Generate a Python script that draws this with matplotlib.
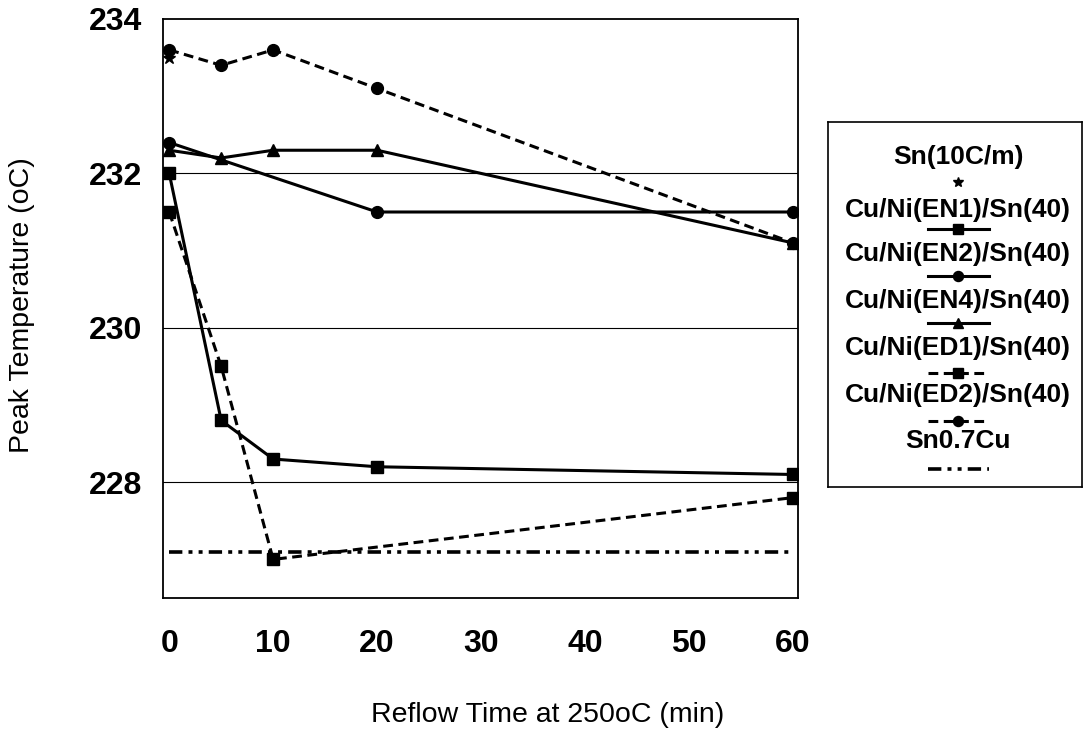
import numpy as np
import matplotlib
matplotlib.use("Agg")
import matplotlib.pyplot as plt

plt.rcParams["font.family"] = ["Liberation Sans", "DejaVu Sans"]

# data
x_sn = [0]
y_sn = [233.5]

x_en1 = [0, 5, 10, 20, 60]
y_en1 = [232.0, 228.8, 228.3, 228.2, 228.1]

x_en2 = [0, 20, 60]
y_en2 = [232.4, 231.5, 231.5]

x_en4 = [0, 5, 10, 20, 60]
y_en4 = [232.3, 232.2, 232.3, 232.3, 231.1]

x_ed1 = [0, 5, 10, 60]
y_ed1 = [231.5, 229.5, 227.0, 227.8]

x_ed2 = [0, 5, 10, 20, 60]
y_ed2 = [233.6, 233.4, 233.6, 233.1, 231.1]

x_cu = [0, 60]
y_cu = [227.1, 227.1]

labels = ["Sn(10C/m)", "Cu/Ni(EN1)/Sn(40)", "Cu/Ni(EN2)/Sn(40)",
          "Cu/Ni(EN4)/Sn(40)", "Cu/Ni(ED1)/Sn(40)", "Cu/Ni(ED2)/Sn(40)",
          "Sn0.7Cu"]
x_ticks = [0, 10, 20, 30, 40, 50, 60]
y_ticks = [228, 230, 232, 234]

W, H = 1084, 753
fig = plt.figure(figsize=(W / 100, H / 100), dpi=100)
ax = fig.add_axes([163 / W, 1 - 598 / H, (798 - 163) / W, (598 - 19) / H])

lw = 2.2
ms = 8.5
dash = (3.2, 1.8)
dashdotdot = (3.7, 1.7, 1.1, 1.7, 1.1, 1.7)

styles = [
    dict(ls="none", marker="*", ms=9),
    dict(ls="-", marker="s", ms=ms),
    dict(ls="-", marker="o", ms=ms),
    dict(ls="-", marker="^", ms=ms),
    dict(ls=(0, dash), marker="s", ms=ms),
    dict(ls=(0, dash), marker="o", ms=ms),
    dict(ls=(0, dashdotdot), marker="none", lw=2.6),
]
series = [(x_sn, y_sn), (x_en1, y_en1), (x_en2, y_en2), (x_en4, y_en4),
          (x_ed1, y_ed1), (x_ed2, y_ed2), (x_cu, y_cu)]

for y in y_ticks[:-1]:
    ax.axhline(y, color="black", lw=0.8, zorder=1)

for (xs, ys), st in zip(series, styles):
    kw = dict(color="black", lw=lw, dash_capstyle="butt", zorder=3)
    kw.update(st)
    ax.plot(xs, ys, **kw)

ax.set_xlim(-0.6, 60.5)
ax.set_ylim(226.5, 234)
ax.set_xticks(x_ticks)
ax.set_yticks(y_ticks)
ax.tick_params(length=0, labelsize=23)
ax.tick_params(axis="x", pad=22)
ax.tick_params(axis="y", pad=15)
for t in ax.get_xticklabels() + ax.get_yticklabels():
    t.set_fontweight("bold")
for s in ax.spines.values():
    s.set_linewidth(1.3)

fig.text(548 / W, 1 - 715 / H, "Reflow Time at 250oC (min)",
         ha="center", va="center", fontsize=20.5)
fig.text(22 / W, 1 - 305 / H, "Peak Temperature (oC)",
         ha="center", va="center", rotation=90, fontsize=20.5)

# legend box, built by hand (label above its line sample)
lx0, lx1, ly0, ly1 = 828, 1082, 122, 487
lax = fig.add_axes([lx0 / W, 1 - ly1 / H, (lx1 - lx0) / W, (ly1 - ly0) / H])
lax.set_xlim(lx0, lx1)
lax.set_ylim(ly1, ly0)
lax.set_xticks([])
lax.set_yticks([])
for s in lax.spines.values():
    s.set_linewidth(1.2)

text_base = [164, 217, 261, 308, 355, 402, 448]
handle_y = [182, 229, 276, 323, 373, 421, 469]
cx = 958
for lab, ty, hy, st in zip(labels, text_base, handle_y, styles):
    lax.text(cx, ty, lab, ha="center", va="baseline", fontsize=19,
             fontweight="bold")
    kw = dict(color="black", lw=lw, dash_capstyle="butt")
    kw.update(st)
    mk = kw.pop("marker")
    msz = kw.pop("ms", ms)
    if kw["ls"] != "none":
        lax.plot([928, 989], [hy, hy], **kw)
    if mk != "none":
        lax.plot([cx], [hy], marker=mk, ms=msz * 0.85, color="black",
                 ls="none")

fig.savefig("out.png", dpi=100)
